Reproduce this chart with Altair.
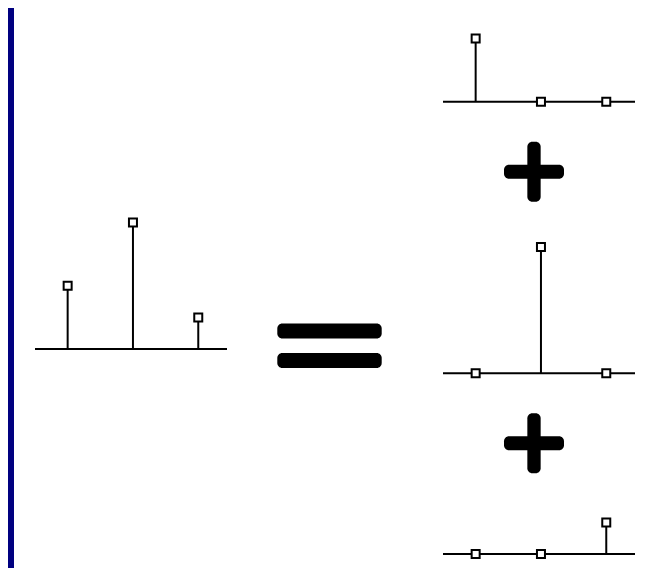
import altair as alt
import pandas as pd

# ---- data: a 3-sample signal and its decomposition into shifted impulses ----
n = [0, 1, 2]
signal = [2, 4, 1]
comp_a = [2, 0, 0]
comp_b = [0, 4, 0]
comp_c = [0, 0, 1]

NAVY = "#000080"
W, H = 630, 560      # whole drawing area (kept inside the window with its margin)
OX, OY = 8, 8        # page position of the drawing area
UNIT = 31.6          # pixels per unit of amplitude
XDOM = [-0.5, 2.44]  # sample-index extent of each stem plot's baseline


def xdomain(d0, d1, p0, p1):
    """Domain so that data d0 lands at page x p0 and d1 at page x p1."""
    a = (p1 - p0) / (d1 - d0)
    return [d0 - (p0 - OX) / a, d0 + (OX + W - p0) / a]


def ydomain(v0, p0, unit):
    """Domain so that data v0 lands at page y p0, `unit` px per data unit."""
    return [v0 - (OY + H - p0) / unit, v0 + (p0 - OY) / unit]


def sc(dom):
    return alt.Scale(domain=dom, nice=False, zero=False)


def stem_layers(values, x0, x1, base_y):
    xs = sc(xdomain(XDOM[0], XDOM[1], x0, x1))
    ys = sc(ydomain(0, base_y, UNIT))
    df = pd.DataFrame({"n": n, "v": values})
    base_df = pd.DataFrame({"a": [XDOM[0]], "b": [XDOM[1]], "z": [0]})
    baseline = alt.Chart(base_df).mark_rule(color="black", strokeWidth=2, strokeCap="butt").encode(
        x=alt.X("a:Q", scale=xs, axis=None), x2="b:Q",
        y=alt.Y("z:Q", scale=ys, axis=None),
    )
    stems = alt.Chart(df).mark_rule(color="black", strokeWidth=2, strokeCap="butt").encode(
        x=alt.X("n:Q", scale=xs, axis=None),
        y=alt.Y("v:Q", scale=ys, axis=None), y2=alt.datum(0),
    )
    heads = alt.Chart(df).mark_square(size=64, fill="white", stroke="black",
                                      strokeWidth=2, opacity=1).encode(
        x=alt.X("n:Q", scale=xs, axis=None),
        y=alt.Y("v:Q", scale=ys, axis=None),
    )
    return [baseline, stems, heads]


def shape_layer(rects, x0, x1, y_bottom, y_top):
    df = pd.DataFrame(rects, columns=["x0", "x1", "y0", "y1"])
    xs = sc(xdomain(0, 1, x0, x1))
    ys = sc(ydomain(0, y_bottom, y_bottom - y_top))
    return alt.Chart(df).mark_rect(color="black", cornerRadius=5).encode(
        x=alt.X("x0:Q", scale=xs, axis=None), x2="x1:Q",
        y=alt.Y("y0:Q", scale=ys, axis=None), y2="y1:Q",
    )


PLUS = [(0, 1, 0.383, 0.617), (0.389, 0.611, 0, 1)]
EQUALS = [(0, 1, 0.663, 1), (0, 1, 0, 0.337)]

border = alt.Chart(pd.DataFrame({"v": [0]})).mark_rect(color=NAVY).encode(
    x=alt.value(0), x2=alt.value(6), y=alt.value(0), y2=alt.value(H)
)

layers = [border]
layers += stem_layers(signal, 35, 227, 349)
layers.append(shape_layer(EQUALS, 277.3, 381.7, 368, 323.5))
layers += stem_layers(comp_a, 443, 635, 101.7)
layers.append(shape_layer(PLUS, 504, 564, 201.7, 141.7))
layers += stem_layers(comp_b, 443, 635, 373.3)
layers.append(shape_layer(PLUS, 504, 564, 473.3, 413.3))
layers += stem_layers(comp_c, 443, 635, 554)

chart = (
    alt.layer(*layers)
    .resolve_scale(x="independent", y="independent")
    .properties(width=W, height=H, padding=0, background="white",
                autosize=alt.AutoSizeParams(type="none"))
    .configure_view(strokeWidth=0)
)

chart.save("out.html", embed_options={"renderer": "svg", "actions": False})
